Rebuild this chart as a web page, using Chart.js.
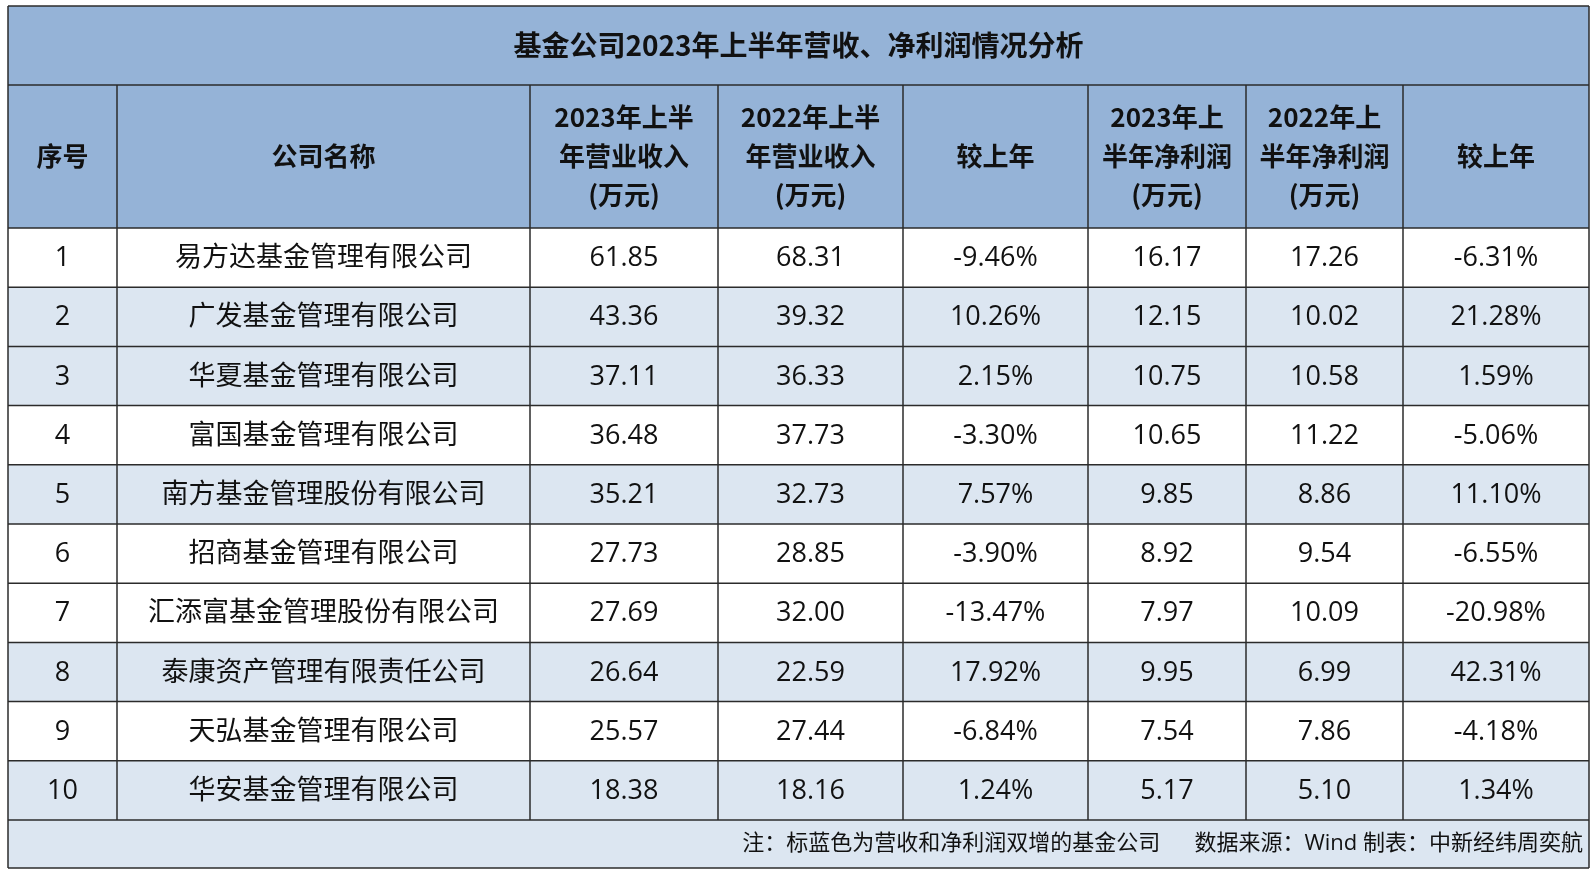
<!DOCTYPE html>
<html><head><meta charset="utf-8">
<script src="https://cdn.jsdelivr.net/npm/chart.js@4/dist/chart.umd.min.js"></script>
<style>html,body{margin:0;padding:0;background:#fff;overflow:hidden}#wrap{width:1594px;height:873px}</style>
</head><body><div id="wrap"><canvas id="c" width="1594" height="873"></canvas></div>
<script>
const title = "基金公司2023年上半年营收、净利润情况分析";
const headers = [["序号"],["公司名称"],["2023年上半","年营业收入","(万元)"],["2022年上半","年营业收入","(万元)"],["较上年"],["2023年上","半年净利润","(万元)"],["2022年上","半年净利润","(万元)"],["较上年"]];
const ranks = [1,2,3,4,5,6,7,8,9,10];
const companies = ["易方达基金管理有限公司","广发基金管理有限公司","华夏基金管理有限公司","富国基金管理有限公司","南方基金管理股份有限公司","招商基金管理有限公司","汇添富基金管理股份有限公司","泰康资产管理有限责任公司","天弘基金管理有限公司","华安基金管理有限公司"];
const rev2023 = ["61.85","43.36","37.11","36.48","35.21","27.73","27.69","26.64","25.57","18.38"];
const rev2022 = ["68.31","39.32","36.33","37.73","32.73","28.85","32.00","22.59","27.44","18.16"];
const revChg = ["-9.46%","10.26%","2.15%","-3.30%","7.57%","-3.90%","-13.47%","17.92%","-6.84%","1.24%"];
const np2023 = ["16.17","12.15","10.75","10.65","9.85","8.92","7.97","9.95","7.54","5.17"];
const np2022 = ["17.26","10.02","10.58","11.22","8.86","9.54","10.09","6.99","7.86","5.10"];
const npChg = ["-6.31%","21.28%","1.59%","-5.06%","11.10%","-6.55%","-20.98%","42.31%","-4.18%","1.34%"];
const footnote = "注：标蓝色为营收和净利润双增的基金公司      数据来源：Wind 制表：中新经纬周奕航";

const colX = [8,117,530,718,903,1088,1246,1403,1589];
const tableTop = 6, titleBottom = 85, headBottom = 228, rowH = 59.2, footH = 48;
const FONT = '"Open Sans", "Noto Sans CJK SC", sans-serif';
const HFONT = '"Noto Sans CJK SC", sans-serif';

const tablePlugin = {
  id:'table',
  afterDraw(chart){
    const ctx = chart.ctx, sx = chart.scales.x, sy = chart.scales.y;
    const X = v=>sx.getPixelForValue(v), Y = v=>sy.getPixelForValue(v);
    const L=X(colX[0]), R=X(colX[colX.length-1]);
    const n = ranks.length;
    const rowTop = i=>Y(headBottom + i*rowH);
    const footTop = Y(headBottom + n*rowH), footBot = Y(headBottom + n*rowH + footH);
    ctx.save();
    ctx.fillStyle='#95b3d7';
    ctx.fillRect(L,Y(tableTop),R-L,Y(headBottom)-Y(tableTop));
    for(let i=0;i<n;i++){
      const up = !revChg[i].startsWith('-') && !npChg[i].startsWith('-');
      ctx.fillStyle = up ? '#dce6f1' : '#ffffff';
      ctx.fillRect(L,rowTop(i),R-L,rowTop(i+1)-rowTop(i));
    }
    ctx.fillStyle='#dce6f1';
    ctx.fillRect(L,footTop,R-L,footBot-footTop);
    ctx.strokeStyle='#2b2b2b'; ctx.lineWidth=1.5;
    const hl=(y)=>{ctx.beginPath();ctx.moveTo(L,y);ctx.lineTo(R,y);ctx.stroke();};
    hl(Y(tableTop)); hl(Y(titleBottom)); hl(Y(headBottom));
    for(let i=1;i<=n;i++) hl(rowTop(i));
    hl(footBot);
    ctx.beginPath();ctx.moveTo(L,Y(tableTop));ctx.lineTo(L,footBot);ctx.stroke();
    ctx.beginPath();ctx.moveTo(R,Y(tableTop));ctx.lineTo(R,footBot);ctx.stroke();
    for(let c=1;c<colX.length-1;c++){ctx.beginPath();ctx.moveTo(X(colX[c]),Y(titleBottom));ctx.lineTo(X(colX[c]),footTop);ctx.stroke();}
    ctx.fillStyle='#111'; ctx.textAlign='center'; ctx.textBaseline='middle';
    ctx.font='bold 28px '+HFONT;
    ctx.fillText(title,(L+R)/2,(Y(tableTop)+Y(titleBottom))/2);
    ctx.font='bold 26px '+HFONT;
    headers.forEach((h,c)=>{
      const cx=(X(colX[c])+X(colX[c+1]))/2, cy=(Y(titleBottom)+Y(headBottom))/2;
      const lh=39;
      h.forEach((t,k)=>ctx.fillText(t,cx,cy+(k-(h.length-1)/2)*lh));
    });
    ctx.font='27px '+FONT;
    const cols=[ranks,companies,rev2023,rev2022,revChg,np2023,np2022,npChg];
    for(let i=0;i<n;i++){
      const cy=(rowTop(i)+rowTop(i+1))/2+1;
      cols.forEach((arr,c)=>ctx.fillText(String(arr[i]),(X(colX[c])+X(colX[c+1]))/2,cy));
    }
    ctx.textAlign='right'; ctx.font='22px '+FONT;
    ctx.fillText(footnote,R-6,(footTop+footBot)/2);
    ctx.restore();
  }
};

new Chart(document.getElementById('c'),{
  type:'scatter',
  data:{datasets:[{data:[]}]},
  options:{
    responsive:false,animation:false,
    layout:{padding:0},
    plugins:{legend:{display:false},tooltip:{enabled:false}},
    scales:{
      x:{type:'linear',min:0,max:1594,display:false},
      y:{type:'linear',min:0,max:873,reverse:true,display:false}
    }
  },
  plugins:[tablePlugin]
});
</script></body></html>
